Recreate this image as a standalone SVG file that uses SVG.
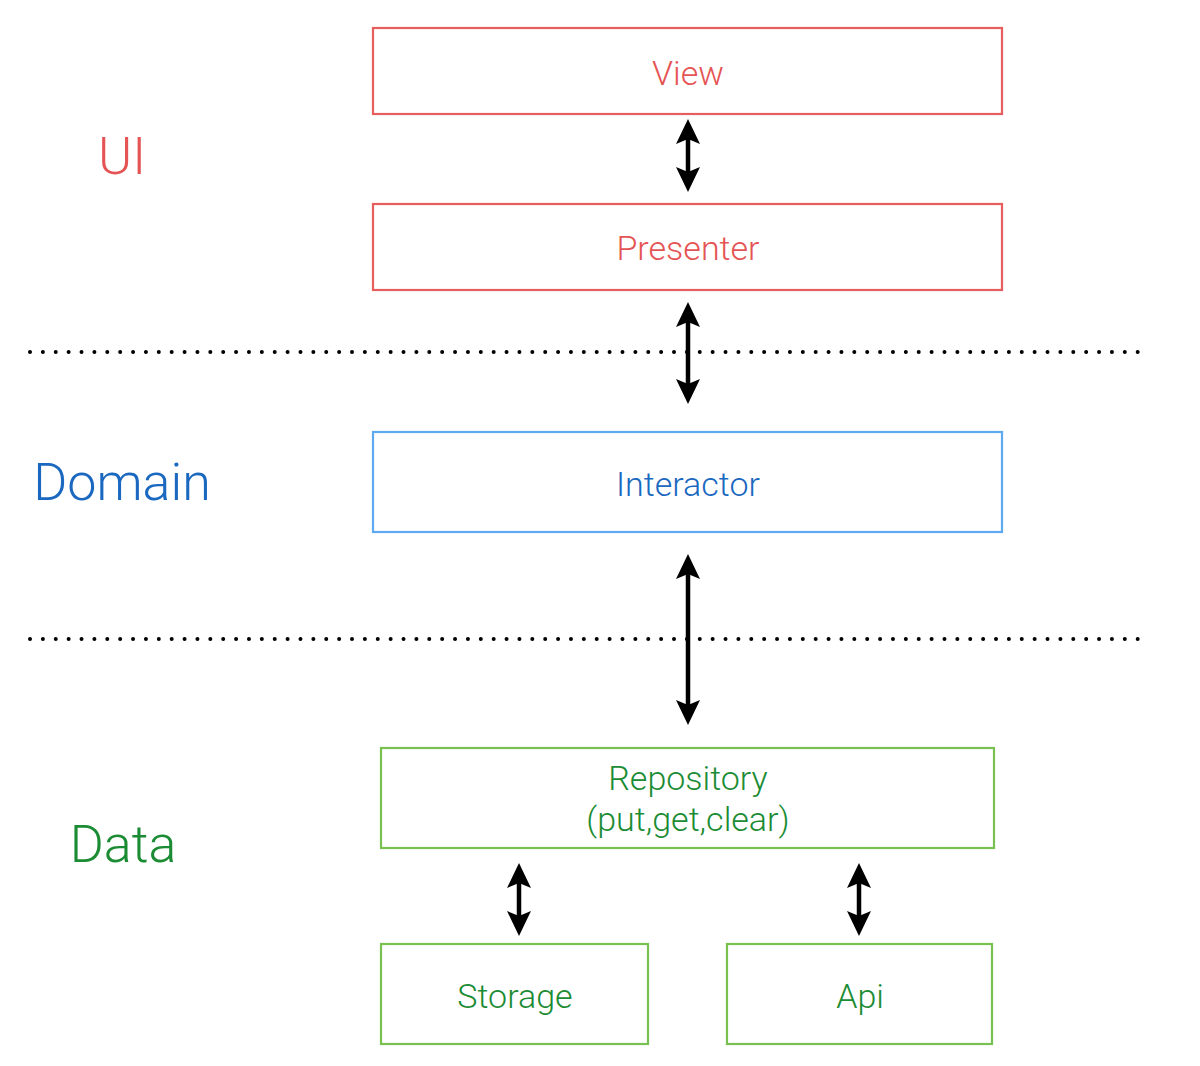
<svg xmlns="http://www.w3.org/2000/svg" width="1200" height="1066" viewBox="0 0 1200 1066">
<style>
.box{fill:#fff;stroke-width:2.2}
.red{stroke:#e85e5e}
.blue{stroke:#5ea9ef}
.green{stroke:#78c150}
.t{font-family:"Helvetica Neue",Roboto,"Liberation Sans",sans-serif;font-weight:300;text-anchor:middle}
.tr{fill:#e55454}
.tb{fill:#1a68c0}
.tg{fill:#1b8c34}
.lbl{font-size:34px}
.big{font-size:52px}
.dots{stroke:#000;stroke-width:4;stroke-linecap:round;stroke-dasharray:0 12.88;fill:none}
.arr{stroke:#000;stroke-width:4.5;fill:none;marker-start:url(#ah);marker-end:url(#ah)}
</style>
<defs>
<marker id="ah" viewBox="0 -12 25 24" refX="14" refY="0" markerWidth="25" markerHeight="24" markerUnits="userSpaceOnUse" orient="auto-start-reverse">
<path d="M25,0 L0,-12 L5,0 L0,12 Z" fill="#000"/>
</marker>
</defs>
<rect width="1200" height="1066" fill="#fff"/>
<g id="layer-labels">
<text class="t tr big" x="122" y="174">UI</text>
<text class="t tb big" x="122" y="500">Domain</text>
<text class="t tg big" x="123" y="862">Data</text>
</g>
<g id="separators">
<line class="dots" x1="30" y1="352" x2="1140" y2="352"/>
<line class="dots" x1="30" y1="639" x2="1140" y2="639"/>
</g>
<g id="view">
<rect class="box red" x="373" y="28" width="629" height="86"/>
<text class="t tr lbl" x="688" y="85">View</text>
</g>
<g id="presenter">
<rect class="box red" x="373" y="204" width="629" height="86"/>
<text class="t tr lbl" x="688" y="260">Presenter</text>
</g>
<g id="interactor">
<rect class="box blue" x="373" y="432" width="629" height="100"/>
<text class="t tb lbl" x="688" y="496">Interactor</text>
</g>
<g id="repository">
<rect class="box green" x="381" y="748" width="613" height="100"/>
<text class="t tg lbl" x="688" y="790">Repository</text>
<text class="t tg lbl" x="688" y="831">(put,get,clear)</text>
</g>
<g id="storage">
<rect class="box green" x="381" y="944" width="267" height="100"/>
<text class="t tg lbl" x="515" y="1008">Storage</text>
</g>
<g id="api">
<rect class="box green" x="727" y="944" width="265" height="100"/>
<text class="t tg lbl" x="860" y="1008">Api</text>
</g>
<g id="connectors">
<line class="arr" x1="688" y1="130" x2="688" y2="181"/>
<line class="arr" x1="688" y1="313" x2="688" y2="393"/>
<line class="arr" x1="688" y1="565" x2="688" y2="714"/>
<line class="arr" x1="519" y1="874" x2="519" y2="925"/>
<line class="arr" x1="859" y1="874" x2="859" y2="925"/>
</g>
</svg>
